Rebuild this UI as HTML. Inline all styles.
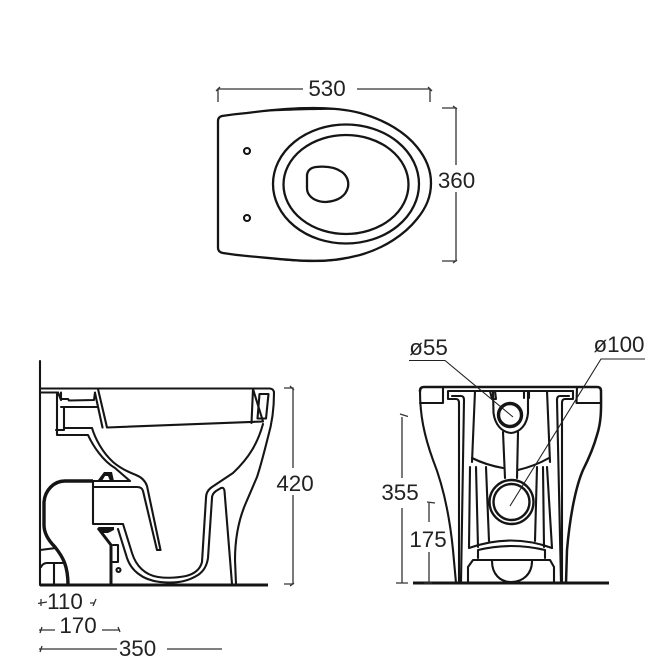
<!DOCTYPE html>
<html><head><meta charset="utf-8"><style>
html,body{margin:0;padding:0;background:#fff;width:651px;height:671px;overflow:hidden}
svg{display:block}
text{font-family:"Liberation Sans",sans-serif;font-size:22.4px;fill:#222;text-anchor:middle}
.d{stroke:#333;stroke-width:1.3;fill:none}
.l{stroke:#151515;stroke-width:2.1;fill:none;stroke-linejoin:round;stroke-linecap:round}
.t{stroke:#151515;stroke-width:3;fill:none;stroke-linejoin:round}
</style></head><body>
<svg width="651" height="671" viewBox="0 0 651 671" xmlns="http://www.w3.org/2000/svg">
<!-- TOP VIEW -->
<path class="l" style="stroke-width:2.300" d="M218 121Q218 117 222 116Q235 114 247 113C270 110 295 108 313 108C330 108 345 109 360 113C385 120 405 132 417 147C426 158 431 170 431 183C431 197 426 208 417 219C405 234 385 248 360 255C345 259 330 261 313 261C295 261 270 258 247 256Q235 255 223 253Q218 252 218 248Z"/>
<path fill="#151515" d="M255 112C280 108 300 107 313 107C325 107 335 108 345 110C330 109.500 300 110 255 112ZM260 258C285 261 300 262 313 262C325 262 335 261.500 345 259.500C325 260 295 260 260 258Z"/>
<ellipse class="l" style="stroke-width:2.300" cx="346" cy="184" rx="73" ry="59.500"/>
<ellipse class="l" style="stroke-width:2.300" cx="346" cy="184.500" rx="62.500" ry="49.500"/>
<path class="l" style="stroke-width:2.300" d="M307 175Q308 168 316 167C325 166 335 167 342 172C347 176 349 181 348 187C346 196 338 201 326 202C318 202 311 199 308 193Q307 191 307 188Z"/>
<circle class="l" cx="247" cy="151" r="3"/><circle class="l" cx="247" cy="218" r="3"/>
<path class="d" d="M218 102V89H303M357 89H430V102M216 91L220 87M428 87L432 91"/>
<path class="d" d="M442 108H456V165M456 192V261H442M453 106L457 109M453 263L457 260"/>
<text x="327" y="96">530</text>
<text x="456.500" y="188">360</text>

<!-- SIDE VIEW -->
<path class="l" d="M40 361V585"/>
<path class="l" d="M40 388.500H270Q274 389 274 393C274 405 273 420 268 437C264 453 261 465 257 477L245 505C238 522 235 540 235 560L236 584"/>
<path class="l" d="M40 392.500H57V435H88C93 446 103 461 115 468L130 481H93"/>
<path class="l" d="M64 407V430H56M61 407H98M64 428H92C95 438 102 452 113 462C120 468 128 472 136 475C141 477 145 480 147 486L160.500 550H157L143 491Q142 487 137 487H93"/>
<path class="l" d="M61 392.500V399H68L69 400.500L94 400L95 392.500M58 392.500L61 400"/>
<path class="l" d="M98 389L107 427.500L263 421.500L253 389M95 393L102.500 427.500M251.500 423L253 389"/>
<path class="l" d="M259.500 394H268.500L266 418.500H257.500Z"/>
<path class="l" d="M263 424C258 442 250 457 233 473L212 487Q206 491 206 498L202 562C200 570 194 574 186 576C176 578 165 578 158 577C145 575 136 566 132 553L123 524H93V482"/>
<path class="l" d="M118 529L127 558C131 570 142 580 160 582C180 584 190 580 198 575C204 571 207 565 208 558L212 498Q212 494 216 491L221 488Q224 487 224.500 491L232 584"/>
<path fill="#151515" d="M98 480L104 472H112L114 481H110L108 476H105L102 481Z"/>
<path class="t" style="stroke-width:3.400" d="M93 481H65C54 481 45 490 44 502V525C44 533 48 540 55 547C63 557 68 566 68 585"/>
<path class="t" d="M98 528L111 545V585"/><path fill="#151515" d="M98 527H114V530L108 533H102Z"/>
<path class="l" d="M113 545H118V562H113"/><circle class="l" cx="118.500" cy="570" r="2"/>
<path class="l" d="M40 550L56 548M41 567Q43 563 47 563H65M54 563V585"/>
<path class="t" d="M40 585H268"/>
<path class="d" d="M284 388H293V468M293 495V584H284M290 386L294 390M290 586L294 583"/>
<text x="295" y="491">420</text>
<text x="65" y="609">110</text><text x="78" y="633">170</text><text x="137.500" y="656">350</text>
<path class="d" d="M38 603.500L47 602M41 599V606M90 603H95M96 599L93 606M39 630H55M42 627L40 633M102 630H120M118 627L120 632M39 649H117M42 646L40 652M167 649H222"/>

<!-- FRONT VIEW -->
<path class="l" style="stroke-width:2.500" d="M420 391Q420 387 424 387H597Q601 387 601 391C601 405 602 420 597 435C594 446 589 458 583 470C576 486 570 515 567 550L566 583"/>
<path class="l" d="M420 391C420 415 424 435 433 460C441 480 449 510 453 550L456 583"/>
<path class="l" d="M420 403H443V387M577 387L576.500 403H601"/>
<path class="l" d="M448 391H573M448 391V399H456Q459 399 459 403V583M452 396H461Q464 396 464 400L461 583"/>
<path class="l" d="M573 391V399H565Q562 399 562 403V583M569 396H560Q557 396 557 400L561 583"/>
<path class="l" d="M475 391L472 462M547 391L550 462"/>
<path class="l" d="M472 458Q486 465 503 468M518 470Q535 466 549 458"/>
<path class="l" d="M493 391L493.500 413C495 424 501 432 511 433C521 432 527 424 528 413L528 391"/>
<path class="l" d="M490 391L492 399H496L495 391M524 391L524 398M529 391V398"/>
<path class="l" d="M503 432L505 478M518 432L517 478"/>
<circle cx="510" cy="415" r="11.500" fill="#fff" stroke="#151515" stroke-width="3.400"/>
<path class="l" d="M476 467L478 547M470 467L469 547M543 467L544 547M547 467L552 548"/>
<path class="l" d="M486 467L489 541M537 467L535 541"/>
<path class="l" d="M469 548Q511 533 552 548M478 550Q511 542 545 550M478 550V558M545 550V558"/>
<path class="l" d="M468 583V567L473 560H550L554 567V583"/>
<path class="l" d="M492 561C492 574 500 582 511 582C523 582 532 574 532 561"/>
<circle cx="511.500" cy="502" r="22" fill="#fff" stroke="#151515" stroke-width="2.400"/>
<circle cx="511.500" cy="502" r="18" fill="#fff" stroke="#151515" stroke-width="2.400"/>
<path class="t" d="M413 583H609"/>
<path stroke="#222" stroke-width="1.100" fill="none" d="M409 360.500H445L513 417M645 359H601L510 506"/>
<path class="d" d="M400 414L408 416.500M402 417V478M402 508V583M396 583L408 583M427 502L435 503M429 503V522M429 552V583M424 583H432"/>
<text x="400" y="500">355</text><text x="428" y="547">175</text>
<text x="428.500" y="355">ø55</text><text x="619" y="352">ø100</text>
</svg>
</body></html>
